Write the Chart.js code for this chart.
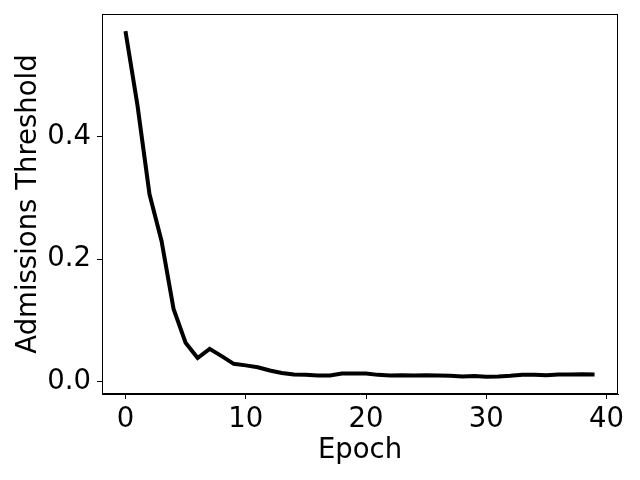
<!DOCTYPE html>
<html>
<head>
<meta charset="utf-8">
<script src="https://cdn.jsdelivr.net/npm/chart.js@4"></script>
<style>
  body { margin: 0; background: #fff; }
  canvas { display: block; }
</style>
</head>
<body>
<canvas id="chart" width="640" height="480"></canvas>
<script>
var epochs = [];
for (var e = 0; e < 40; e++) epochs.push(e);

var thresholds = [
    0.572, 0.451, 0.306, 0.230, 0.119, 0.064, 0.039, 0.054, 0.042, 0.0295,
    0.027, 0.024, 0.0186, 0.0147, 0.012, 0.0115, 0.0105, 0.0105, 0.0137, 0.0137,
    0.0137, 0.0115, 0.0105, 0.011, 0.0105, 0.011, 0.0105, 0.010, 0.009, 0.0095,
    0.0085, 0.009, 0.010, 0.0115, 0.0115, 0.011, 0.012, 0.012, 0.0125, 0.012
];

var xTicks = [0, 10, 20, 30, 40];
var yTicks = [0.0, 0.2, 0.4];

var font = { family: "'DejaVu Sans', sans-serif", size: 27.5 };

// box around the plot area (matplotlib style)
var frame = {
    id: "frame",
    afterDraw: function(chart) {
        var a = chart.chartArea, ctx = chart.ctx;
        ctx.save();
        ctx.strokeStyle = "#000";
        ctx.lineWidth = 1;
        ctx.strokeRect(a.left + 0.5, a.top + 0.5, a.right - a.left - 1, a.bottom - a.top - 1);
        ctx.restore();
    }
};

var points = [];
for (var i = 0; i < epochs.length; i++) {
    points.push({ x: epochs[i], y: thresholds[i] });
}

new Chart(document.getElementById("chart"), {
    type: "line",
    data: {
        datasets: [{
            data: points,
            borderColor: "#000",
            borderWidth: 4,
            pointRadius: 0,
            tension: 0,
            fill: false
        }]
    },
    options: {
        responsive: false,
        animation: false,
        layout: { padding: { left: 0, right: 22, top: 14, bottom: 0 } },
        plugins: { legend: { display: false }, tooltip: { enabled: false } },
        scales: {
            x: {
                type: "linear",
                min: -1.95,
                max: 40.95,
                afterBuildTicks: function(scale) {
                    scale.ticks = xTicks.map(function(v) { return { value: v }; });
                },
                afterFit: function(scale) {
                    scale.height = 86;
                    scale.paddingLeft = 0;
                    scale.paddingRight = 0;
                },
                grid: { drawOnChartArea: false, drawTicks: true, tickLength: 5, color: "#000" },
                border: { display: true, color: "#000" },
                ticks: { color: "#000", font: font, padding: 4, maxRotation: 0 },
                title: { display: true, text: "Epoch", color: "#000", font: font, padding: { top: 0, bottom: 13 } }
            },
            y: {
                type: "linear",
                min: -0.0197,
                max: 0.600,
                afterBuildTicks: function(scale) {
                    scale.ticks = yTicks.map(function(v) { return { value: v }; });
                },
                afterFit: function(scale) {
                    scale.width = 102;
                    scale.paddingTop = 0;
                    scale.paddingBottom = 0;
                },
                grid: { drawOnChartArea: false, drawTicks: true, tickLength: 5, color: "#000" },
                border: { display: true, color: "#000" },
                ticks: {
                    color: "#000", font: font, padding: 6,
                    callback: function(v) { return v.toFixed(1); }
                },
                title: { display: true, text: "Admissions Threshold", color: "#000", font: font, padding: { top: 12, bottom: 0 } }
            }
        }
    },
    plugins: [frame]
});
</script>
</body>
</html>
